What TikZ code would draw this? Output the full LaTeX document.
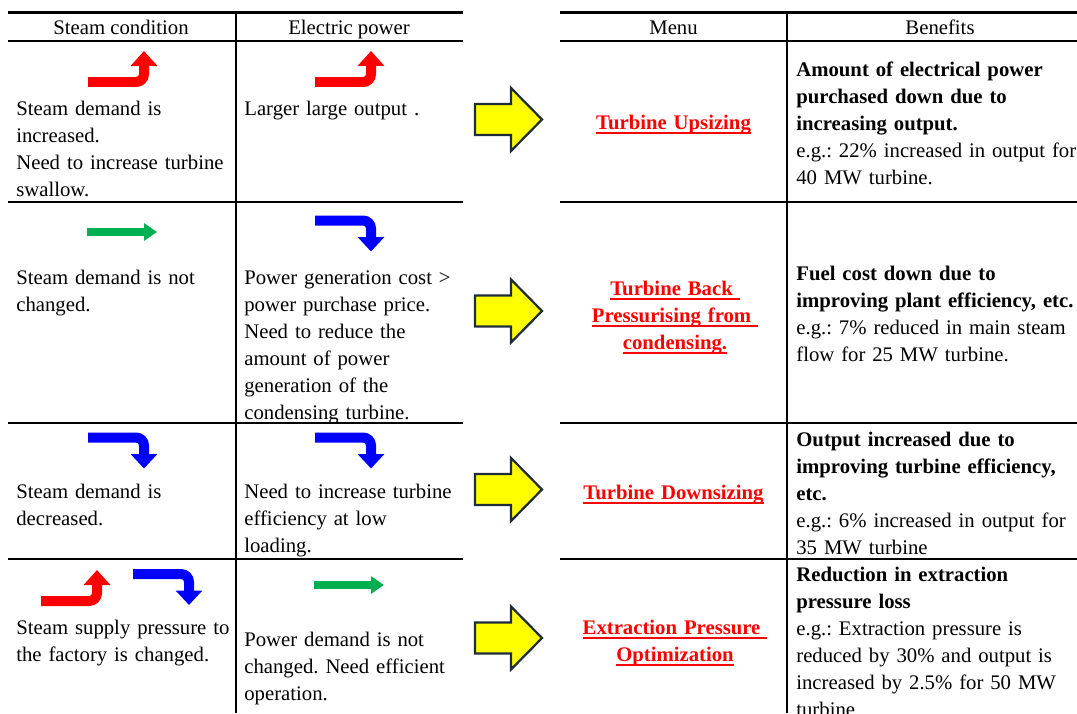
\documentclass[tikz,border=0pt]{standalone}
\usepackage{fontspec}
\setmainfont{Liberation Serif}
\usetikzlibrary{arrows.meta}
\definecolor{c1}{HTML}{000000}
\definecolor{cred}{HTML}{FF0000}
\definecolor{cblue}{HTML}{0000FF}
\definecolor{cgreen}{HTML}{00B050}
\definecolor{cyel}{HTML}{FFFF00}
\definecolor{cedge}{HTML}{1F2D3A}
\newcommand{\tabfont}{\fontsize{11.8}{15.37}\selectfont}
% underline with a thick rule, as in the menu column
\newcommand{\ulred}[1]{\leavevmode\setbox0\hbox{#1}\rlap{\rule[-0.9mm]{\wd0}{0.5mm}}\box0}
\frenchspacing

\begin{document}
\begin{tikzpicture}[
    x=0.02cm, y=-0.02cm,
    every node/.style={font=\tabfont, inner sep=0pt},
    hdr/.style={anchor=base},
    cell/.style={anchor=base west, align=left, text width=4.5cm},
    menu/.style={anchor=base, align=center, text width=4.4cm, text=cred,
                 font=\tabfont\bfseries},
    toprule/.style={line width=0.6mm, color=c1},
    rule/.style={line width=0.4mm, color=c1},
    blk/.style={draw=cedge, fill=cyel, line width=0.45mm, line join=miter},
    upr/.style={draw=cred, line width=2mm, rounded corners=1.6mm,
                -{Triangle[width=5.2mm, length=3mm]}},
    dnb/.style={draw=cblue, line width=2mm, rounded corners=1.6mm,
                -{Triangle[width=5.2mm, length=2.9mm]}},
    flat/.style={draw=cgreen, line width=1.5mm,
                 -{Triangle[width=3.4mm, length=2.6mm]}},
]
\useasboundingbox (0,0) rectangle (1077,713);

% ================================================================ rules
\draw[toprule] (8,12.5) -- (463,12.5);
\draw[toprule] (560,12.5) -- (1077,12.5);
\foreach \y in {41.5, 201.5, 423, 558.5}{
  \draw[rule] (8,\y) -- (463,\y);
  \draw[rule] (560,\y) -- (1077,\y);
}
\draw[rule] (236,12.5) -- (236,713);
\draw[rule] (787,12.5) -- (787,713);

% ================================================================ header
\node[hdr] (hs) at (121, 35) {Steam condition};
\node[hdr] (he) at (349, 35) {Electric power};
\node[hdr] (hm) at (673.5, 35) {Menu};
\node[hdr] (hb) at (940, 35) {Benefits};

% ================================================================ trend arrows
\foreach \x/\y in {88/82, 315/82, 41/601}{ \draw[upr] (\x,\y) -- ++(56,0) -- ++(0,-31); }
\foreach \x/\y in {315/220.5, 88/437.5, 315/437.5, 133/574}{ \draw[dnb] (\x,\y) -- ++(56,0) -- ++(0,31); }
\foreach \x/\y in {87/232, 314/585}{ \draw[flat] (\x,\y) -- ++(70,0); }

% the yellow arrows into the menu
\foreach \y in {119.5, 311, 489.5, 638}{
  \draw[blk] (475,\y-15.5) -- (511,\y-15.5) -- (511,\y-31.5) -- (542,\y)
    -- (511,\y+31.5) -- (511,\y+15.5) -- (475,\y+15.5) -- cycle;
}

% ================================================================ row 1
\node[cell] (s1) at (16, 115.5) {Steam demand is\\ increased.\\ Need to increase turbine\\ swallow.};
\node[cell] (e1) at (244, 115.5) {Larger large output .};
\node[menu] (m1) at (673.5, 129.5) {\ulred{Turbine Upsizing}};
\node[cell, text width=6cm] (b1) at (796, 76.5)
    {\textbf{Amount of electrical power}\\ \textbf{purchased down due to}\\
     \textbf{increasing output.}\\ e.g.: 22\% increased in output for\\ 40 MW turbine.};

% ================================================================ row 2
\node[cell] (s2) at (16, 284.5) {Steam demand is not\\ changed.};
\node[cell] (e2) at (244, 284.5) {Power generation cost >\\ power purchase price.\\
    Need to reduce the\\ amount of power\\ generation of the\\ condensing turbine.};
\node[menu] (m2) at (675, 295.5)
    {\ulred{Turbine Back\ }\\ \ulred{Pressurising from\ }\\ \ulred{condensing.}};
\node[cell, text width=6cm] (b2) at (796, 280.5)
    {\textbf{Fuel cost down due to}\\ \textbf{improving plant efficiency, etc.}\\
     e.g.: 7\% reduced in main steam\\ flow for 25 MW turbine.};

% ================================================================ row 3
\node[cell] (s3) at (16, 498.5) {Steam demand is\\ decreased.};
\node[cell] (e3) at (244, 498.5) {Need to increase turbine\\ efficiency at low\\ loading.};
\node[menu] (m3) at (673.5, 499.5) {\ulred{Turbine Downsizing}};
\node[cell, text width=6cm] (b3) at (796, 446.5)
    {\textbf{Output increased due to}\\ \textbf{improving turbine efficiency,}\\
     \textbf{etc.}\\ e.g.: 6\% increased in output for\\ 35 MW turbine};

% ================================================================ row 4
\node[cell] (s4) at (16, 634.5) {Steam supply pressure to\\ the factory is changed.};
\node[cell] (e4) at (244, 646.5) {Power demand is not\\ changed. Need efficient\\ operation.};
\node[menu] (m4) at (675, 634.5) {\ulred{Extraction Pressure\ }\\ \ulred{Optimization}};
\node[cell, text width=6cm] (b4) at (796, 581.5)
    {\textbf{Reduction in extraction}\\ \textbf{pressure loss}\\
     e.g.: Extraction pressure is\\ reduced by 30\% and output is\\
     increased by 2.5\% for 50 MW\\ turbine};
\end{tikzpicture}
\end{document}
